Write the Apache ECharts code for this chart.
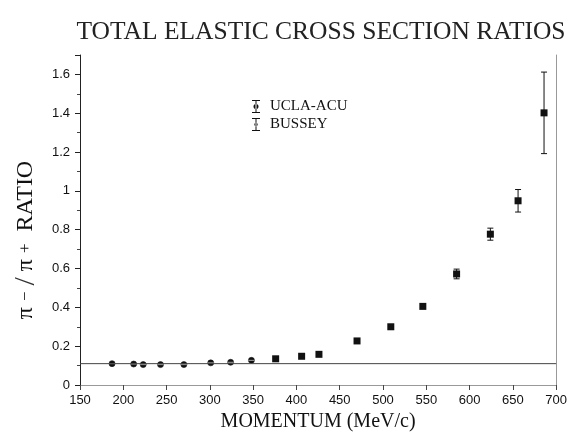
<!DOCTYPE html>
<html>
<head>
<meta charset="utf-8">
<script src="https://cdn.jsdelivr.net/npm/echarts@6/dist/echarts.min.js"></script>
<style>html,body{margin:0;padding:0;background:#fff}#c{width:570px;height:438px}</style>
</head>
<body>
<div id="c"></div>
<script>
// ---- data ----
const xTicks = [150, 200, 250, 300, 350, 400, 450, 500, 550, 600, 650, 700];
const yTicks = [0, 0.2, 0.4, 0.6, 0.8, 1, 1.2, 1.4, 1.6];
const busseyMomentum = [187, 212, 223, 243, 270, 301, 324, 348];
const busseyRatio    = [0.110, 0.108, 0.105, 0.105, 0.105, 0.114, 0.117, 0.127];
const busseyErr      = [0.004, 0.004, 0.004, 0.004, 0.004, 0.004, 0.004, 0.005];
const uclaMomentum = [376, 406, 426, 470, 509, 546, 585, 624, 656, 686];
const uclaRatio    = [0.135, 0.148, 0.158, 0.227, 0.300, 0.405, 0.572, 0.777, 0.949, 1.402];
const uclaErr      = [0.005, 0.006, 0.006, 0.008, 0.010, 0.020, 0.025, 0.031, 0.058, 0.210];
const refRatio = 0.11;

const ink = '#111';
const serif = '"Liberation Serif", "DejaVu Serif", serif';
const sans = '"Liberation Sans", "DejaVu Sans", sans-serif';

function zip(xs, ys, es) { return xs.map((x, i) => [x, ys[i], es[i]]); }

function errRender(shape) {
  return function (params, api) {
    const x = api.value(0), y = api.value(1), e = api.value(2);
    const p = api.coord([x, y]);
    const hi = api.coord([x, y + e]);
    const lo = api.coord([x, y - e]);
    const st = { stroke: ink, lineWidth: 1 };
    const children = [];
    if (p[1] - hi[1] > 4) {
      children.push({ type: 'line', shape: { x1: p[0], y1: hi[1], x2: p[0], y2: lo[1] }, style: st });
      children.push({ type: 'line', shape: { x1: p[0] - 3, y1: hi[1], x2: p[0] + 3, y2: hi[1] }, style: st });
      children.push({ type: 'line', shape: { x1: p[0] - 3, y1: lo[1], x2: p[0] + 3, y2: lo[1] }, style: st });
    }
    if (shape === 'square') {
      children.push({ type: 'rect', shape: { x: p[0] - 3.5, y: p[1] - 3.5, width: 7, height: 7 }, style: { fill: ink } });
    } else {
      children.push({ type: 'circle', shape: { cx: p[0], cy: p[1], r: 3 }, style: { fill: ink, stroke: ink, lineWidth: 0.6 } });
      children.push({ type: 'line', shape: { x1: p[0] - 3, y1: p[1], x2: p[0] + 3, y2: p[1] }, style: { stroke: '#fff', lineWidth: 0.6 } });
    }
    return { type: 'group', children: children };
  };
}

const iconUcla = 'path://M0,0H8V1H0Z M3.5,0H4.5V13H3.5Z M0,12H8V13H0Z M1.5,6.5A2.5,2.5,0,1,0,6.5,6.5A2.5,2.5,0,1,0,1.5,6.5Z';
const iconBussey = 'path://M0,0H8V1H0Z M3.5,0H4.5V13H3.5Z M0,12H8V13H0Z M2.3,6.5A1.7,1.7,0,1,0,5.7,6.5A1.7,1.7,0,1,0,2.3,6.5Z';

const chart = echarts.init(document.getElementById('c'), null, { renderer: 'canvas' });
chart.setOption({
  animation: false,
  backgroundColor: '#fff',
  title: {
    text: 'TOTAL ELASTIC CROSS SECTION RATIOS',
    left: 316, top: 14, textAlign: 'center',
    textStyle: { fontFamily: serif, fontWeight: 'normal', fontSize: 25.5, color: '#222' }
  },
  legend: {
    orient: 'vertical', left: 247, top: 94, itemGap: 3, itemWidth: 8, itemHeight: 13,
    textStyle: { fontFamily: serif, fontSize: 15, color: ink, padding: [0, 0, 0, 5] },
    data: [
      { name: 'UCLA-ACU', icon: iconUcla, itemStyle: { color: ink } },
      { name: 'BUSSEY', icon: iconBussey, itemStyle: { color: ink } }
    ]
  },
  grid: { left: 80, right: 13, top: 55, bottom: 53 },
  xAxis: [{
    type: 'value', min: xTicks[0], max: xTicks[xTicks.length - 1], interval: 50,
    name: 'MOMENTUM (MeV/c)', nameLocation: 'middle', nameGap: 26,
    nameTextStyle: { fontFamily: serif, fontSize: 20, color: ink },
    axisLine: { lineStyle: { color: '#444', width: 1 } },
    axisTick: { length: 5, lineStyle: { color: '#444' } },
    axisLabel: { fontFamily: sans, fontSize: 13, color: ink, margin: 9 },
    splitLine: { show: false }
  }, {
    type: 'value', position: 'top', min: xTicks[0], max: xTicks[xTicks.length - 1],
    axisLine: { show: true, lineStyle: { color: '#999', width: 1 } },
    axisTick: { show: false }, axisLabel: { show: false }, splitLine: { show: false }
  }],
  yAxis: [{
    type: 'value', min: 0, max: 1.7, interval: 0.2,
    name: 'π {s|−} {sl|/} π {s|+}  RATIO', nameLocation: 'middle', nameGap: 34,
    nameTextStyle: {
      fontFamily: serif, fontSize: 24, color: ink, padding: [0, 40, 0, 0],
      rich: {
        s: { fontFamily: serif, fontSize: 17, color: ink },
        sl: { fontFamily: serif, fontSize: 30, color: '#333' }
      }
    },
    axisLine: { show: true, lineStyle: { color: '#222', width: 1 } },
    axisTick: { length: 5, lineStyle: { color: '#222' } },
    minorTick: { show: true, splitNumber: 2, length: 3, lineStyle: { color: '#444' } },
    axisLabel: { fontFamily: sans, fontSize: 13, color: ink, margin: 10, showMaxLabel: false },
    splitLine: { show: false }
  }, {
    type: 'value', position: 'right', min: 0, max: 1.7,
    axisLine: { show: true, lineStyle: { color: '#999', width: 1 } },
    axisTick: { show: false }, axisLabel: { show: false }, splitLine: { show: false }
  }],
  series: [
    {
      name: 'reference', type: 'line', xAxisIndex: 0, yAxisIndex: 0, symbol: 'none',
      lineStyle: { color: '#444', width: 1 }, silent: true,
      data: [[xTicks[0], refRatio], [xTicks[xTicks.length - 1], refRatio]]
    },
    {
      name: 'UCLA-ACU', type: 'custom', xAxisIndex: 0, yAxisIndex: 0,
      itemStyle: { color: ink }, renderItem: errRender('square'),
      encode: { x: 0, y: 1 },
      data: zip(uclaMomentum, uclaRatio, uclaErr)
    },
    {
      name: 'BUSSEY', type: 'custom', xAxisIndex: 0, yAxisIndex: 0,
      itemStyle: { color: ink }, renderItem: errRender('circle'),
      encode: { x: 0, y: 1 },
      data: zip(busseyMomentum, busseyRatio, busseyErr)
    }
  ]
});
</script>
</body>
</html>
